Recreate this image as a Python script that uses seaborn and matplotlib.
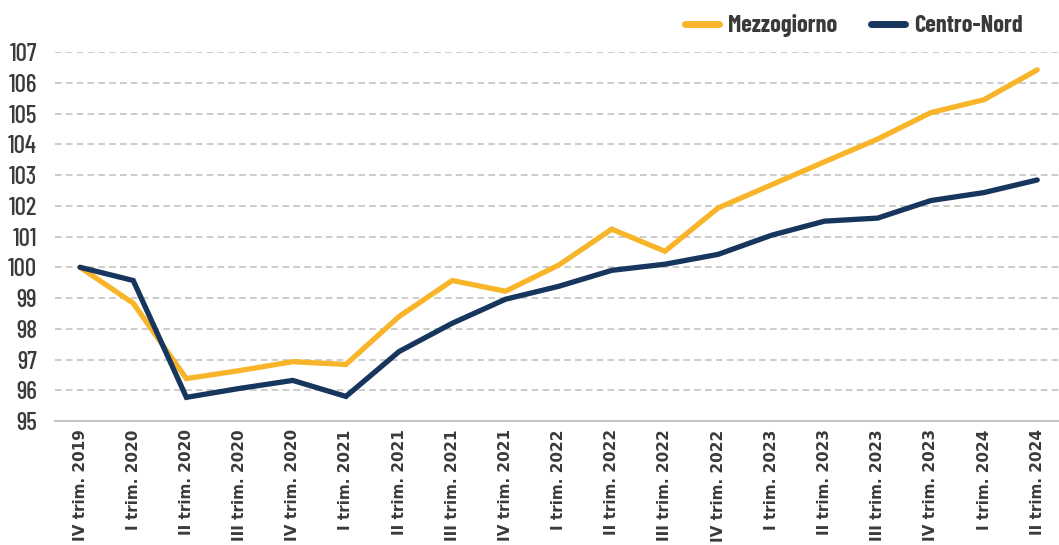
import pandas as pd
import numpy as np
import matplotlib
matplotlib.use('Agg')
import matplotlib.pyplot as plt
import seaborn as sns

# quarters on the x axis
quarters = ['IV trim. 2019', 'I trim. 2020', 'II trim. 2020', 'III trim. 2020', 'IV trim. 2020',
            'I trim. 2021', 'II trim. 2021', 'III trim. 2021', 'IV trim. 2021',
            'I trim. 2022', 'II trim. 2022', 'III trim. 2022', 'IV trim. 2022',
            'I trim. 2023', 'II trim. 2023', 'III trim. 2023', 'IV trim. 2023',
            'I trim. 2024', 'II trim. 2024']

# index values (IV trim. 2019 = 100)
mezzogiorno = [100.0, 98.83, 96.38, 96.64, 96.93, 96.84, 98.4, 99.57, 99.22,
               100.07, 101.24, 100.52, 101.93, 102.68, 103.43, 104.17, 105.03, 105.45, 106.42]
centro_nord = [100.0, 99.57, 95.77, 96.06, 96.32, 95.8, 97.26, 98.18, 98.96,
               99.38, 99.9, 100.1, 100.42, 101.04, 101.5, 101.6, 102.17, 102.43, 102.84]

series_names = ['Mezzogiorno', 'Centro-Nord']
palette = {'Mezzogiorno': '#F8B529', 'Centro-Nord': '#17365D'}

df = pd.DataFrame({
    'x': list(range(len(quarters))) * 2,
    'valore': mezzogiorno + centro_nord,
    'area': ['Mezzogiorno'] * len(quarters) + ['Centro-Nord'] * len(quarters),
})

sns.set_style('white')
plt.rcParams['font.family'] = ['Barlow Condensed', 'DejaVu Sans']
text_col = '#3a3a3a'

fig = plt.figure(figsize=(10.59, 5.45), dpi=100)
ax = fig.add_axes([0.052, 0.2275, 0.948, 0.677])

sns.lineplot(data=df, x='x', y='valore', hue='area', hue_order=series_names,
             palette=palette, linewidth=3.8, ax=ax, sort=False,
             solid_capstyle='round', solid_joinstyle='miter')

ax.set_ylim(95, 107)
ax.set_xlim(-0.47, 18.41)
ax.set_yticks(range(95, 108))
ax.set_yticklabels([str(v) for v in range(95, 108)], fontsize=18, fontweight=500, color=text_col)
ax.set_xticks(range(len(quarters)))
ax.set_xticklabels(quarters, rotation=90, fontsize=11, fontweight='bold',
                   color=text_col, family='DejaVu Sans')
ax.tick_params(axis='both', length=0)
ax.tick_params(axis='x', pad=6)
ax.tick_params(axis='y', pad=13)
ax.set_xlabel('')
ax.set_ylabel('')

ax.yaxis.grid(True, linestyle=(0, (4, 2.5)), color='#c4c4c4', linewidth=1.2)
ax.xaxis.grid(False)
ax.set_axisbelow(True)
for s in ['top', 'right', 'left']:
    ax.spines[s].set_visible(False)
ax.spines['bottom'].set_color('#c4c4c4')
ax.spines['bottom'].set_linewidth(1.5)

handles, labels = ax.get_legend_handles_labels()
ax.legend_.remove()
leg = fig.legend(handles, labels, loc='center right', bbox_to_anchor=(0.986, 0.953),
                 ncol=2, frameon=False, handlelength=1.4, handletextpad=0.35,
                 columnspacing=1.4, prop={'family': 'Barlow Condensed', 'size': 17.5, 'weight': 'bold'})
for t in leg.get_texts():
    t.set_color(text_col)
for h in leg.legend_handles:
    h.set_linewidth(5)
    h.set_solid_capstyle('round')

fig.savefig('out.png', dpi=100)
